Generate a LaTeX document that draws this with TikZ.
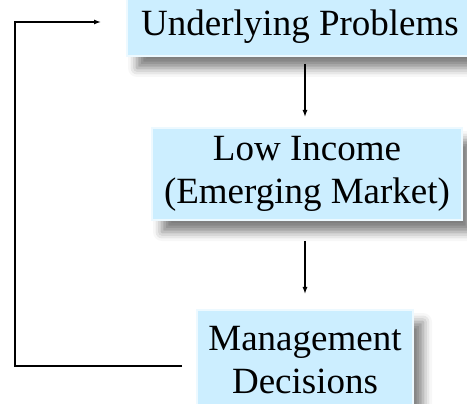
\documentclass[tikz,border=0pt]{standalone}
\usepackage{fontspec}
\setmainfont{Liberation Serif}
\usepackage{tikz}
\usetikzlibrary{arrows.meta,shadows.blur}
\definecolor{boxblue}{RGB}{204,238,255}
\def\bigtext{\fontsize{37}{43}\selectfont}

\begin{document}
\begin{tikzpicture}[x=1pt,y=1pt,
		stage/.style={fill=boxblue,draw=boxblue!35,line width=2pt,align=center,inner sep=0pt,
			font=\bigtext,blur shadow={shadow xshift=10pt,shadow yshift=-12pt,shadow blur radius=9pt,shadow opacity=50}},
		flow/.style={-{Latex[length=7pt,width=5pt]},line width=1.3pt}]
			\useasboundingbox (0,0) rectangle (467,-404);
			\node[stage,minimum width=346pt,minimum height=58pt] (problems) at (300,-27) {Underlying Problems};
			\node[stage,minimum width=310pt,minimum height=92pt] (income) at (307,-174) {Low Income\\(Emerging Market)};
			\node[stage,minimum width=216pt,minimum height=100pt] (decisions) at (305,-360) {Management\\Decisions};
			\coordinate (back) at (15,-22);
			\draw[flow,shorten <=7pt,shorten >=10pt] (problems.south -| decisions.north) -- (income.north -| decisions.north);
			\draw[flow,shorten <=20pt,shorten >=15pt] (income.south -| decisions.north) -- (decisions.north);
			\draw[flow,shorten <=14pt,shorten >=25pt] ([yshift=-6pt]decisions.west) -| (back) -- ([yshift=5pt]problems.west);
		\end{tikzpicture}
\end{document}
